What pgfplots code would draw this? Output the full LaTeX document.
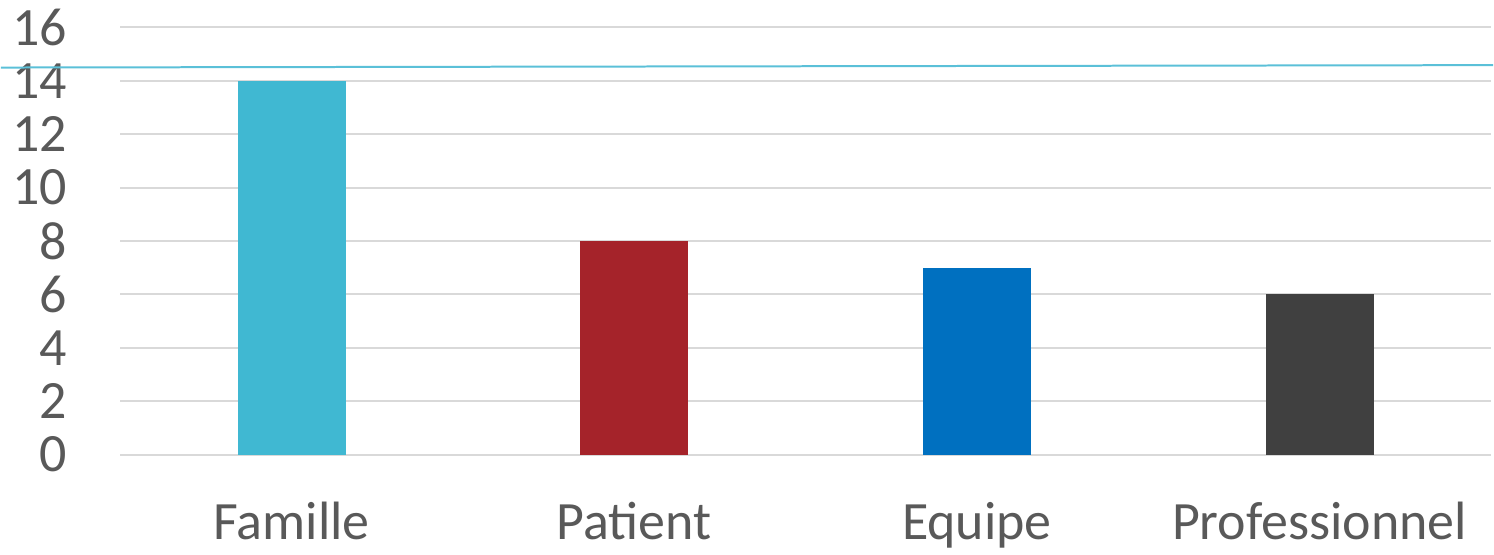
\documentclass[border=0pt]{standalone}
\usepackage{fontspec}
\setmainfont{Carlito}
\usepackage{pgfplots}
\pgfplotsset{compat=1.18}
\definecolor{cFam}{HTML}{40B8D2}
\definecolor{cPat}{HTML}{A5232A}
\definecolor{cEqu}{HTML}{0070C0}
\definecolor{cPro}{HTML}{404040}
\definecolor{gridc}{HTML}{D9D9D9}
\definecolor{txt}{HTML}{595959}
\definecolor{cline}{HTML}{5BC0D8}
\begin{document}
\begin{tikzpicture}
\begin{axis}[
  scale only axis,
  width=686pt, height=213.75pt,
  xmin=-0.5, xmax=3.5,
  ymin=0, ymax=16,
  ytick={0,2,...,16},
  xtick={0,1,2,3},
  xticklabels={Famille,Patient,Equipe,Professionnel},
  axis line style={draw=none},
  major tick length=0pt,
  ymajorgrids,
  grid style={gridc, line width=1pt},
  /pgf/number format/assume math mode=true,
  tick label style={font=\fontsize{27}{32}\selectfont, text=txt},
  xticklabel style={anchor=base, yshift=-42.5pt},
  yticklabel style={anchor=east, xshift=-23pt},
  clip=false,
]
\addplot[ybar, bar width=54pt, bar shift=0pt, fill=cFam, draw=none] coordinates {(0,14)};
\addplot[ybar, bar width=54pt, bar shift=0pt, fill=cPat, draw=none] coordinates {(1,8)};
\addplot[ybar, bar width=54pt, bar shift=0pt, fill=cEqu, draw=none] coordinates {(2,7)};
\addplot[ybar, bar width=54pt, bar shift=0pt, fill=cPro, draw=none] coordinates {(3,6)};
\draw[cline, line width=1pt] (axis cs:-0.848,14.50) -- (axis cs:3.506,14.59);
\path (axis cs:-0.848,-3.668) rectangle (axis cs:3.506,17.03);
\end{axis}
\end{tikzpicture}
\end{document}
